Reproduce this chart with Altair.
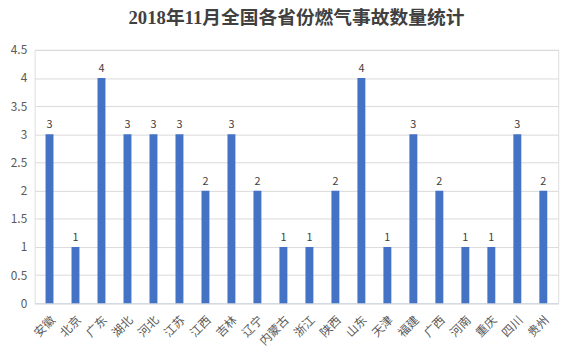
import altair as alt
import pandas as pd

provinces = ["安徽", "北京", "广东", "湖北", "河北", "江苏", "江西", "吉林", "辽宁", "内蒙古",
             "浙江", "陕西", "山东", "天津", "福建", "广西", "河南", "重庆", "四川", "贵州"]
counts = [3, 1, 4, 3, 3, 3, 2, 3, 2, 1, 1, 2, 4, 1, 3, 2, 1, 1, 3, 2]
y_ticks = [0, 0.5, 1, 1.5, 2, 2.5, 3, 3.5, 4, 4.5]

df = pd.DataFrame({"province": provinces, "count": counts})

font = "Noto Sans CJK SC"

base = alt.Chart(df).encode(
    x=alt.X("province:N", sort=provinces, title=None,
            scale=alt.Scale(paddingInner=0.695, paddingOuter=0.42),
            axis=alt.Axis(labelAngle=-45, labelFont=font, labelFontSize=12,
                          labelColor="#595959", ticks=False, domainColor="#d0d8e4",
                          labelPadding=11, grid=False)),
    y=alt.Y("count:Q", title=None,
            scale=alt.Scale(domain=[0, 4.5], nice=False),
            axis=alt.Axis(values=y_ticks, labelFont=font, labelFontSize=12,
                          labelColor="#595959", ticks=False, domain=False,
                          gridColor="#d9d9d9", labelPadding=8,
                          labelExpr="datum.value"))
)

bars = base.mark_bar(color="#4472C4")
labels = base.mark_text(dy=-9, fontSize=11, font=font, color="#404040").encode(text="count:Q")

chart = (bars + labels).properties(
    width=531, height=257,
    title=alt.TitleParams("2018年11月全国各省份燃气事故数量统计",
                          font="Liberation Serif, Noto Sans CJK SC",
                          fontSize=19, fontWeight="bold", color="#404040",
                          anchor="middle", offset=16),
    autosize=alt.AutoSizeParams(type="none"),
    padding={"left": 27, "top": 40, "right": 14, "bottom": 52},
).configure_view(stroke=None).configure(background="white")

chart.save("out.html", embed_options={"renderer": "svg", "actions": False})
